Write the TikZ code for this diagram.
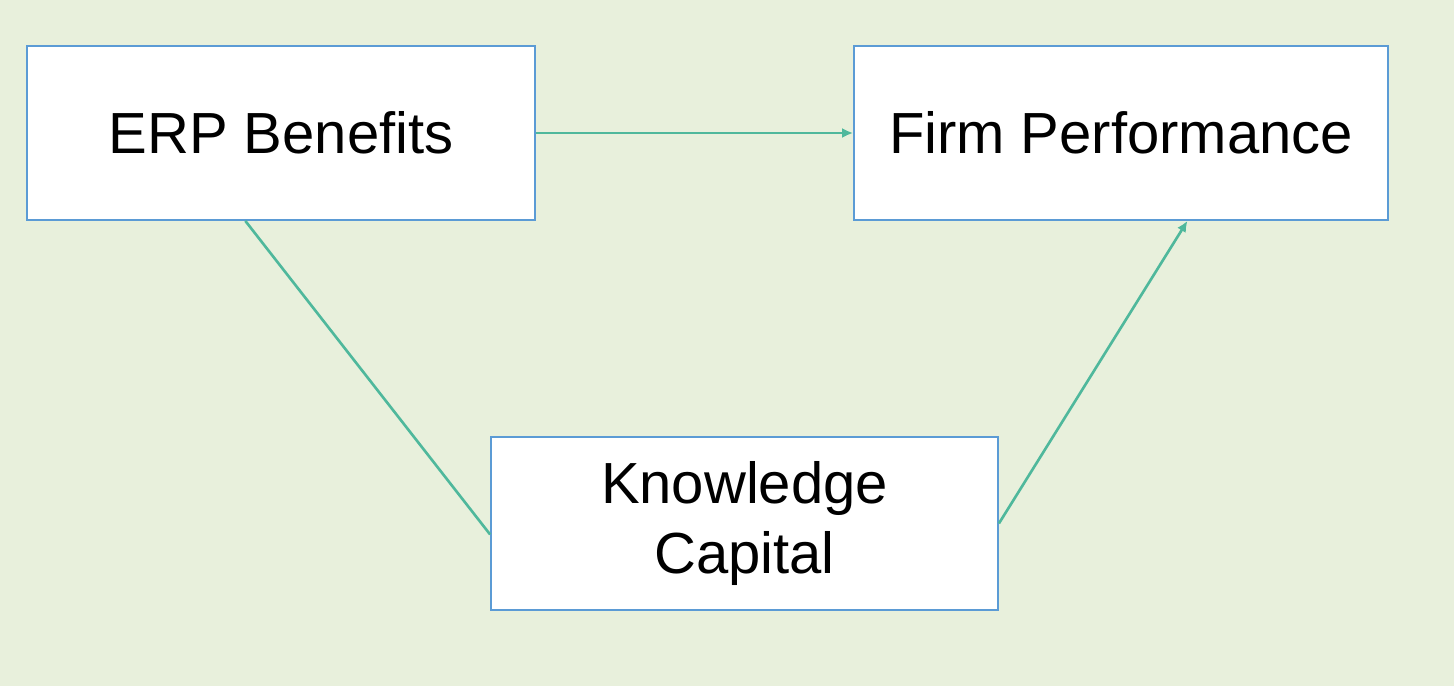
\documentclass[tikz,border=0pt]{standalone}
\usepackage{fontspec}
\setmainfont{Liberation Sans}
\usetikzlibrary{calc,arrows.meta}
\definecolor{bgGreen}{HTML}{E8F0DC}
\definecolor{boxBlue}{HTML}{5B9BD5}
\definecolor{lineTeal}{HTML}{4FB89C}
\tikzset{
  factor/.style={draw=boxBlue, fill=white, line width=1pt, align=center,
    minimum height=3.48cm, font=\fontsize{33}{40}\selectfont},
  link/.style={lineTeal, line width=1.5pt},
  tip/.style={-{Latex[length=2.2mm,width=2mm]}}
}
\begin{document}
\begin{tikzpicture}
\fill[bgGreen] (0,0) rectangle (29.08,-13.72);

\node[factor, minimum width=10.16cm] (erp) at (5.62,-2.66) {ERP Benefits};
\node[factor, minimum width=10.68cm] (firm) at (22.42,-2.66) {Firm Performance};
\node[factor, minimum width=10.14cm, minimum height=3.46cm] (know) at (14.89,-10.47) {Knowledge\\Capital};

\coordinate (erpOut) at ($(erp.south west)!0.43!(erp.south east)$);
\coordinate (knowIn) at ($(know.west)+(0,-0.22)$);
\coordinate (firmIn) at ($(firm.south west)!0.624!(firm.south east)$);

\draw[link, tip] (erp.east) -- (firm.west);
\draw[link] (erpOut) -- (knowIn);
\draw[link, tip] (know.east) -- (firmIn);
\end{tikzpicture}
\end{document}
